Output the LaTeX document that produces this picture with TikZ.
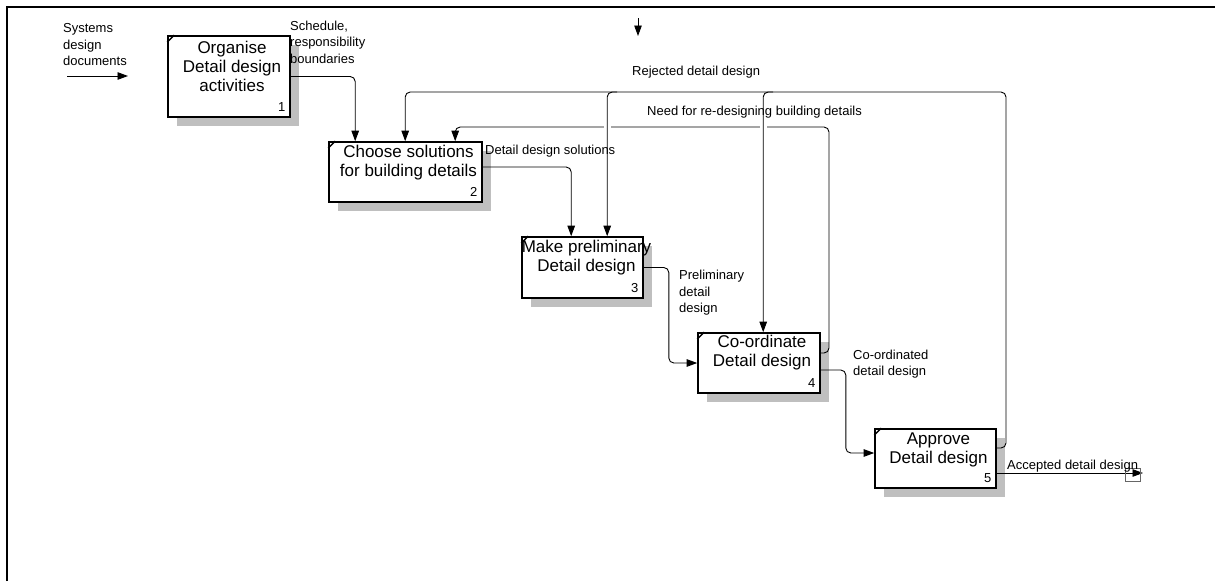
\documentclass[tikz,border=0pt]{standalone}
\usepackage{fontspec}
\setmainfont{Liberation Sans}
\usetikzlibrary{arrows.meta,calc,shadows}

\tikzset{
  frameline/.style={line width=2pt},
  proc/.style={draw, line width=1.6pt, fill=white, rectangle, inner sep=0pt,
    drop shadow={shadow xshift=9pt, shadow yshift=-9pt, fill=gray!50, opacity=1}},
  title/.style={font=\fontsize{17}{19}\selectfont, align=center, inner sep=0pt},
  num/.style={font=\fontsize{13}{15}\selectfont, inner sep=0pt},
  lbl/.style={font=\fontsize{13}{16.5}\selectfont, align=left, inner sep=0pt, anchor=west},
  flow/.style={line width=0.9pt, rounded corners=5pt, -{Triangle[length=10.5pt,width=7.5pt]}},
  cornertick/.style={line width=1.3pt},
  gap/.style={fill=white}
}

\begin{document}
\begin{tikzpicture}[x=1pt,y=-1pt]
\useasboundingbox (0,0) rectangle (1215,581);

% frame edges
\draw[frameline] (7,581) -- (7,7) -- (1215,7);

% activity boxes
\node[proc, minimum width=122pt, minimum height=81pt] (b1) at (229,76.5) {};
\node[proc, minimum width=153pt, minimum height=60pt] (b2) at (405.5,172) {};
\node[proc, minimum width=121pt, minimum height=61pt] (b3) at (582.5,267.5) {};
\node[proc, minimum width=122pt, minimum height=60pt] (b4) at (759,363) {};
\node[proc, minimum width=121pt, minimum height=59pt] (b5) at (935.5,458.5) {};

% corner marks
\foreach \b in {b1,b2,b3,b4,b5}
  \draw[cornertick] ($(\b.north west)+(0,7)$) -- ($(\b.north west)+(7,0)$);

% box titles
\node[title] (t1) at ($(b1.north)+(3,31.5)$) {Organise\\Detail design\\activities};
\node[title] (t2) at ($(b2.north)+(3,21)$) {Choose solutions\\for building details};
\node[title] (t3) at ($(b3.north)+(4,21)$) {Make preliminary\\Detail design};
\node[title] (t4) at ($(b4.north)+(3,20.5)$) {Co-ordinate\\Detail design};
\node[title] (t5) at ($(b5.north)+(3,21.5)$) {Approve\\Detail design};

% box numbers
\node[num] (n1) at ($(b1.south east)+(-9,-11)$) {1};
\node[num] (n2) at ($(b2.south east)+(-9,-11)$) {2};
\node[num] (n3) at ($(b3.south east)+(-9,-11)$) {3};
\node[num] (n4) at ($(b4.south east)+(-9,-11)$) {4};
\node[num] (n5) at ($(b5.south east)+(-9,-11)$) {5};

% free ends
\coordinate (in0) at (67,76);
\coordinate (in1) at (128,76);
\coordinate (ctl0) at (638,18);
\coordinate (ctl1) at (638,36);
\coordinate (out) at (1143,473);
\coordinate (rj) at (1006,92);
\coordinate (nd) at (829,127);
\coordinate (r3) at ($(b3.north west)+(86,0)$);
\coordinate (r4) at ($(b4.north west)+(66,0)$);
\coordinate (r3top) at (r3 |- rj);
\coordinate (r4top) at (r4 |- rj);

% flows between activities
\draw[flow] (in0) -- (in1);
\draw[flow] (ctl0) -- (ctl1);
\draw[flow] (b1.east) -| ($(b2.north west)+(27,0)$);
\draw[flow] ($(b2.east)+(0,-5)$) -| ($(b3.north west)+(50,0)$);
\draw[flow] (b3.east) -- ++(25,0) |- (b4.west);
\draw[flow] ($(b4.east)+(0,7)$) -- ++(25,0) |- ($(b5.west)+(0,-5.5)$);
\draw[flow] ($(b5.east)+(0,14.5)$) -- (out);

% feedback: need for re-design
\draw[flow] ($(b4.east)+(0,-10)$) -| (nd) -| ($(b2.north west)+(127,0)$);
\fill[gap] ($(r3 |- nd)+(-3.5,-1.5)$) rectangle ($(r3 |- nd)+(3.5,1.5)$);
\fill[gap] ($(r4 |- nd)+(-3.5,-1.5)$) rectangle ($(r4 |- nd)+(3.5,1.5)$);

% feedback: rejected design
\draw[flow] ($(b5.east)+(0,-10.5)$) -| (rj) -| ($(b2.north west)+(77,0)$);
\draw[flow] ($(r3top)+(10,0)$) -- (r3top) -- (r3);
\draw[flow] ($(r4top)+(10,0)$) -- (r4top) -- (r4);

% tunnel mark at the output
\draw[line width=0.7pt, black!60] (1125,468) rectangle (1140,481);

% arrow labels
\node[lbl] (l1) at (63,45) {Systems\\design\\documents};
\node[lbl] (l2) at (290,42) {Schedule,\\responsibility\\boundaries};
\node[lbl] (l3) at (485,151) {Detail design solutions};
\node[lbl] (l4) at (632,72) {Rejected detail design};
\node[lbl] (l5) at (647,112) {Need for re-designing building details};
\node[lbl] (l6) at (679,293) {Preliminary\\detail\\design};
\node[lbl] (l7) at (853,364) {Co-ordinated\\detail design};
\node[lbl] (l8) at (1007,466) {Accepted detail design};
\end{tikzpicture}
\end{document}
